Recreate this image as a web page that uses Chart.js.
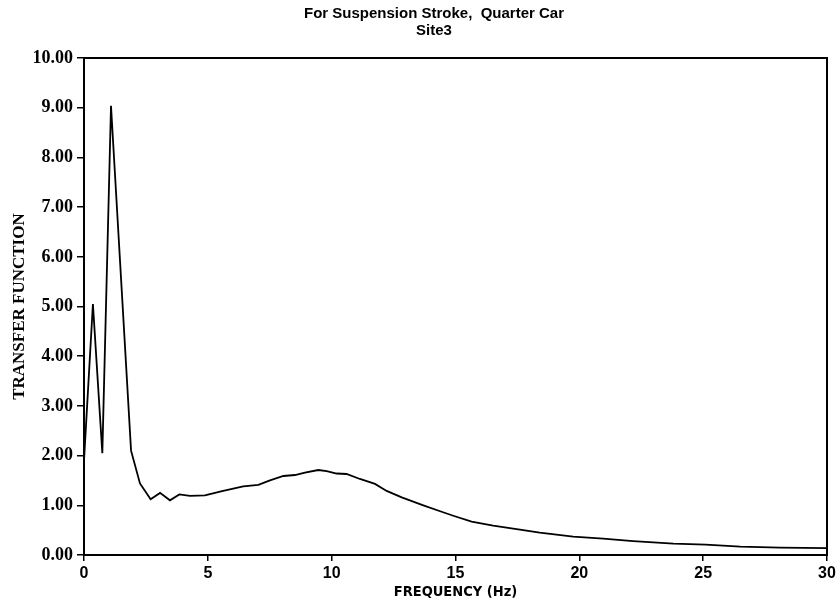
<!DOCTYPE html>
<html>
<head>
<meta charset="utf-8">
<title>Transfer function - suspension stroke</title>
<script src="https://cdn.jsdelivr.net/npm/chart.js@4.4.1/dist/chart.umd.min.js"></script>
<style>
  html, body { margin: 0; padding: 0; background: #fff; }
</style>
</head>
<body>
<canvas id="tfChart" width="840" height="608"></canvas>
<script>
// Quarter car model, suspension stroke, Site3
const titleLines = ['For Suspension Stroke,  Quarter Car', 'Site3'];
const xLabel = 'FREQUENCY (Hz)';
const yLabel = 'TRANSFER FUNCTION';

const freqHz = [0, 0.36, 0.74, 1.09, 1.9, 2.26, 2.69, 3.07, 3.47, 3.85, 4.28, 4.88,
  5.62, 6.43, 7.04, 7.51, 8.05, 8.52, 8.92, 9.46, 9.8, 10.2, 10.6, 11.14, 11.75,
  12.22, 12.83, 13.7, 14.44, 14.91, 15.65, 16.52, 17.6, 18.4, 19.75, 20.96, 22.17,
  23.8, 25.1, 26.5, 28.1, 30];
const transfer = [1.9, 5.05, 2.05, 9.04, 2.1, 1.44, 1.12, 1.25, 1.1, 1.22, 1.19, 1.2,
  1.29, 1.38, 1.41, 1.5, 1.59, 1.61, 1.66, 1.71, 1.69, 1.64, 1.63, 1.53, 1.43,
  1.29, 1.16, 1.0, 0.87, 0.79, 0.67, 0.59, 0.51, 0.45, 0.37, 0.33, 0.28,
  0.23, 0.21, 0.17, 0.15, 0.14];

const xRange = [0, 30];
const xStep = 5;
const yRange = [0, 10];
const yStep = 1;

const points = freqHz.map((f, i) => ({ x: f, y: transfer[i] }));

const INK = '#000';
// left margin shifts the title block off-centre; the y axis box takes the rest
const LEFT_PAD = 28;

new Chart(document.getElementById('tfChart'), {
  type: 'line',
  data: {
    datasets: [{
      data: points,
      borderColor: INK,
      borderWidth: 1.8,
      pointRadius: 0,
      tension: 0,
      fill: false
    }]
  },
  options: {
    responsive: false,
    animation: false,
    devicePixelRatio: 1,
    layout: { padding: { left: LEFT_PAD, top: 0, right: 0, bottom: 0 } },
    plugins: {
      legend: { display: false },
      tooltip: { enabled: false },
      title: {
        display: true,
        text: titleLines,
        color: INK,
        font: { family: 'Liberation Sans', weight: 'bold', size: 15, lineHeight: 1.17 },
        padding: { top: 5, bottom: 0 }
      }
    },
    scales: {
      x: {
        type: 'linear',
        position: 'bottom',
        min: xRange[0],
        max: xRange[1],
        afterFit: s => { s.height = 53; },
        ticks: {
          stepSize: xStep,
          color: INK,
          padding: 3,
          maxRotation: 0,
          font: { family: 'Liberation Sans', weight: 'bold', size: 16 }
        },
        grid: { display: true, drawOnChartArea: false, drawTicks: true, tickLength: 6, color: INK, lineWidth: 1.5 },
        border: { display: true, color: INK, width: 2 },
        title: {
          display: true,
          text: xLabel,
          color: INK,
          font: { family: '"DejaVu Sans Condensed", "Liberation Sans", sans-serif', weight: 'bold', size: 14.5 },
          padding: { top: 0, bottom: 7 }
        }
      },
      y: {
        type: 'linear',
        position: 'left',
        min: yRange[0],
        max: yRange[1],
        afterFit: s => { s.width = 84 - LEFT_PAD; },
        ticks: {
          stepSize: yStep,
          color: INK,
          padding: 4,
          callback: v => Number(v).toFixed(2),
          font: { family: 'Liberation Serif', weight: 'bold', size: 18 }
        },
        grid: { display: true, drawOnChartArea: false, drawTicks: true, tickLength: 7, color: INK, lineWidth: 1.5 },
        border: { display: true, color: INK, width: 2 },
        title: {
          display: true,
          text: yLabel,
          color: INK,
          font: { family: 'Liberation Serif', weight: 'bold', size: 17, lineHeight: 1.2 },
          // pulled back into the page margin
          padding: { top: 19 - LEFT_PAD - 10, bottom: 0 }
        }
      },
      // frame: top and right edges of the plot box
      xTop: {
        type: 'linear',
        position: 'top',
        min: xRange[0],
        max: xRange[1],
        afterFit: s => { s.height = 18; },
        ticks: { display: false },
        grid: { display: false },
        border: { display: true, color: INK, width: 2 }
      },
      yRight: {
        type: 'linear',
        position: 'right',
        min: yRange[0],
        max: yRange[1],
        afterFit: s => { s.width = 13; },
        ticks: { display: false },
        grid: { display: false },
        border: { display: true, color: INK, width: 2 }
      }
    }
  }
});
</script>
</body>
</html>
